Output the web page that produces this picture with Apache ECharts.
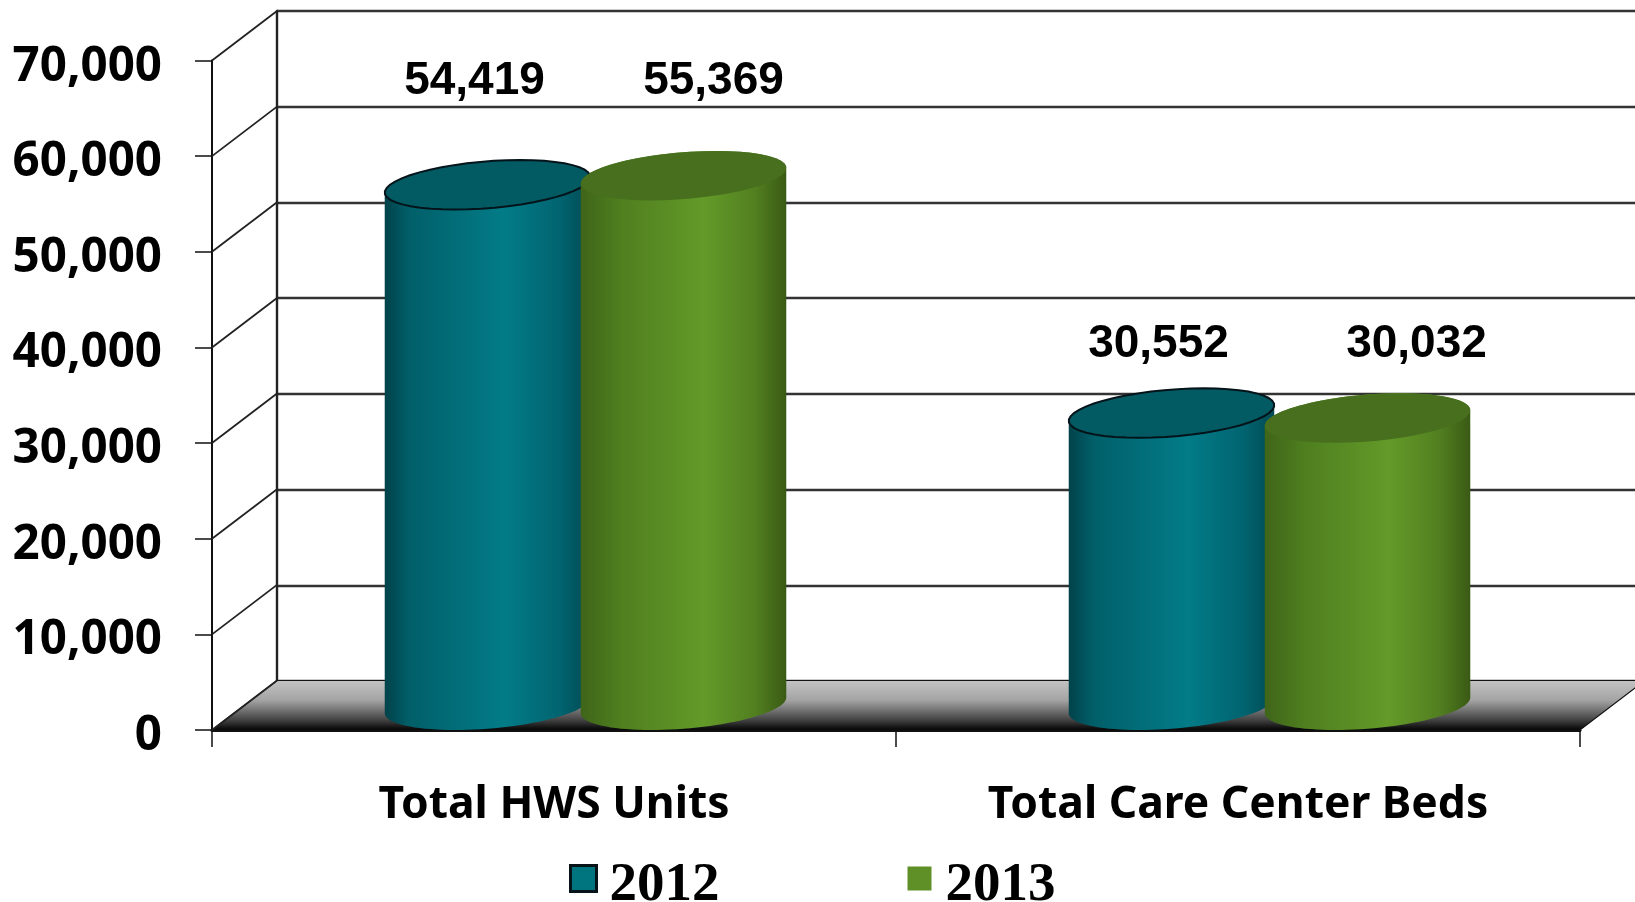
<!DOCTYPE html>
<html>
<head>
<meta charset="utf-8">
<style>html,body{margin:0;padding:0;background:#fff}#c{width:1635px;height:902px}</style>
<script src="https://cdn.jsdelivr.net/npm/echarts@6/dist/echarts.min.js"></script>
</head>
<body>
<div id="c"></div>
<script>
const categories = ['Total HWS Units', 'Total Care Center Beds'];
const values2012 = [54419, 30552];
const values2013 = [55369, 30032];
const yTicks = [0, 10000, 20000, 30000, 40000, 50000, 60000, 70000];

const depthX = 65, depthY = 49.5;
const halfBar = 97.5, barShift = 98, barNudge = -1;
const labelNudge2012 = [[-46, -128], [-46, -93]];
const labelNudge2013 = [[-3, -119], [16, -98]];

const chart = echarts.init(document.getElementById('c'));

function ring(cx, cy, from, to) {
  const pts = [];
  const n = 48;
  for (let i = 0; i <= n; i++) {
    const t = from + (to - from) * i / n;
    pts.push([cx + halfBar * Math.cos(t) + depthX / 2 * Math.sin(t), cy - depthY / 2 * Math.sin(t)]);
  }
  return pts;
}

function cylinder(side, bodyStops, topFill, topStroke, nudge) {
  return function (params, api) {
    const cat = api.value(0), v = api.value(1);
    const top = api.coord([cat, v]);
    const base = api.coord([cat, 0]);
    const cx = top[0] + side * barShift + depthX / 2 + barNudge;
    const ty = top[1] - depthY / 2;
    const by = base[1] - depthY / 2;
    const t0 = Math.atan2(depthX / 2, halfBar);
    const body = ring(cx, ty, t0, t0 + Math.PI).concat(ring(cx, by, t0 + Math.PI, t0 + 2 * Math.PI));
    const nudgeXY = nudge[params.dataIndex];
    return {
      type: 'group',
      children: [
        { type: 'polygon', shape: { points: body },
          style: { fill: { type: 'linear', x: 0, y: 0, x2: 1, y2: 0, colorStops: bodyStops }, stroke: null } },
        { type: 'polygon', shape: { points: ring(cx, ty, 0, Math.PI * 2) },
          style: { fill: topFill, stroke: topStroke, lineWidth: topStroke ? 2 : 0 } },
        { type: 'text', x: cx + nudgeXY[0] + 33, y: top[1] + nudgeXY[1],
          style: { text: api.value(1).toLocaleString('en-US'), fill: '#000', align: 'center', verticalAlign: 'middle',
                   font: 'bold 46px "Liberation Sans", Arial, sans-serif' } }
      ]
    };
  };
}

const tealStops = [
  { offset: 0, color: '#01424a' }, { offset: 0.12, color: '#015f69' }, { offset: 0.58, color: '#027c88' },
  { offset: 0.85, color: '#016470' }, { offset: 1, color: '#014a53' }
];
const greenStops = [
  { offset: 0, color: '#3f6519' }, { offset: 0.2, color: '#4f7f1f' }, { offset: 0.6, color: '#639a29' },
  { offset: 0.85, color: '#527f20' }, { offset: 1, color: '#3a5a14' }
];

chart.setOption({
  animation: false,
  backgroundColor: '#fff',
  grid: [
    { left: 212, right: 55, top: 60.5, bottom: 172 },
    { left: 277, width: 1368, top: 11, height: 670 }
  ],
  legend: {
    left: 569, top: 858, itemWidth: 26, itemHeight: 26, itemGap: 186, padding: 0,
    formatter: name => '{a|' + name + '}',
    textStyle: {
      rich: { a: { fontFamily: '"Liberation Serif", serif', fontWeight: 'bold', fontSize: 55, color: '#000', padding: [14, 0, 0, 8] } }
    },
    data: [
      { name: '2012', icon: 'rect', itemStyle: { color: '#01757f', borderColor: '#06141a', borderWidth: 3 } },
      { name: '2013', icon: 'rect', itemStyle: { color: '#5e9027', borderColor: '#fff', borderWidth: 2 } }
    ]
  },
  xAxis: [
    { type: 'category', gridIndex: 0, data: categories,
      axisLine: { lineStyle: { color: '#111', width: 3 } },
      axisTick: { show: true, length: 17, lineStyle: { color: '#111', width: 1.5 } },
      axisLabel: { margin: 53, color: '#000', fontFamily: '"Noto Sans", sans-serif', fontWeight: 'bold', fontSize: 44.4 } },
    { type: 'value', gridIndex: 1, min: 0, max: 1, show: false, splitLine: { show: false } }
  ],
  yAxis: [
    { type: 'value', gridIndex: 0, min: 0, max: 70000, interval: 10000,
      axisLine: { show: true, lineStyle: { color: '#111', width: 2 } },
      axisTick: { show: true, length: 17, lineStyle: { color: '#111', width: 1.5 } },
      splitLine: { show: false },
      axisLabel: { margin: 50, color: '#000', fontFamily: '"Noto Sans", sans-serif', fontWeight: 'bold', fontSize: 47.5,
                   verticalAlign: 'top', padding: [-17.5, 0, 0, 0],
                   formatter: v => v.toLocaleString('en-US') } },
    { type: 'value', gridIndex: 1, min: 0, max: 70000, interval: 10000,
      axisLine: { show: true, onZero: false, lineStyle: { color: '#222', width: 2.4 } },
      axisTick: { show: false }, axisLabel: { show: false },
      splitLine: { show: true, lineStyle: { color: '#333', width: 2.4 } } }
  ],
  series: [
    { type: 'custom', name: 'floor', xAxisIndex: 0, yAxisIndex: 0, silent: true, z: 1,
      data: [[0, 0]],
      renderItem: function (params, api) {
        const g = params.coordSys;
        const y = api.coord([0, 0])[1];
        return { type: 'polygon', shape: { points: [[g.x, y], [g.x + depthX, y - depthY], [g.x + g.width + depthX, y - depthY], [g.x + g.width, y]] },
          style: { fill: { type: 'linear', x: 0, y: 0, x2: 0, y2: 1, colorStops: [
            { offset: 0, color: '#c4c4c4' }, { offset: 0.4, color: '#a4a4a4' }, { offset: 0.8, color: '#404040' }, { offset: 1, color: '#000' } ] },
            stroke: '#111', lineWidth: 1.2 } };
      } },
    { type: 'custom', name: 'wall', xAxisIndex: 0, yAxisIndex: 0, silent: true, z: 2,
      data: yTicks.map(v => [0, v]),
      renderItem: function (params, api) {
        const g = params.coordSys;
        const y = api.coord([0, api.value(1)])[1];
        return { type: 'line', shape: { x1: g.x, y1: y, x2: g.x + depthX, y2: y - depthY },
          style: { stroke: '#222', lineWidth: 1.8 } };
      } },
    { type: 'custom', name: '2012', xAxisIndex: 0, yAxisIndex: 0, z: 3,
      data: values2012.map((v, i) => [i, v]),
      encode: { x: 0, y: 1 },
      renderItem: cylinder(-1, tealStops, '#025a63', '#04141a', labelNudge2012) },
    { type: 'custom', name: '2013', xAxisIndex: 0, yAxisIndex: 0, z: 4,
      data: values2013.map((v, i) => [i, v]),
      encode: { x: 0, y: 1 },
      renderItem: cylinder(1, greenStops, '#476f1e', null, labelNudge2013) }
  ]
});
</script>
</body>
</html>
